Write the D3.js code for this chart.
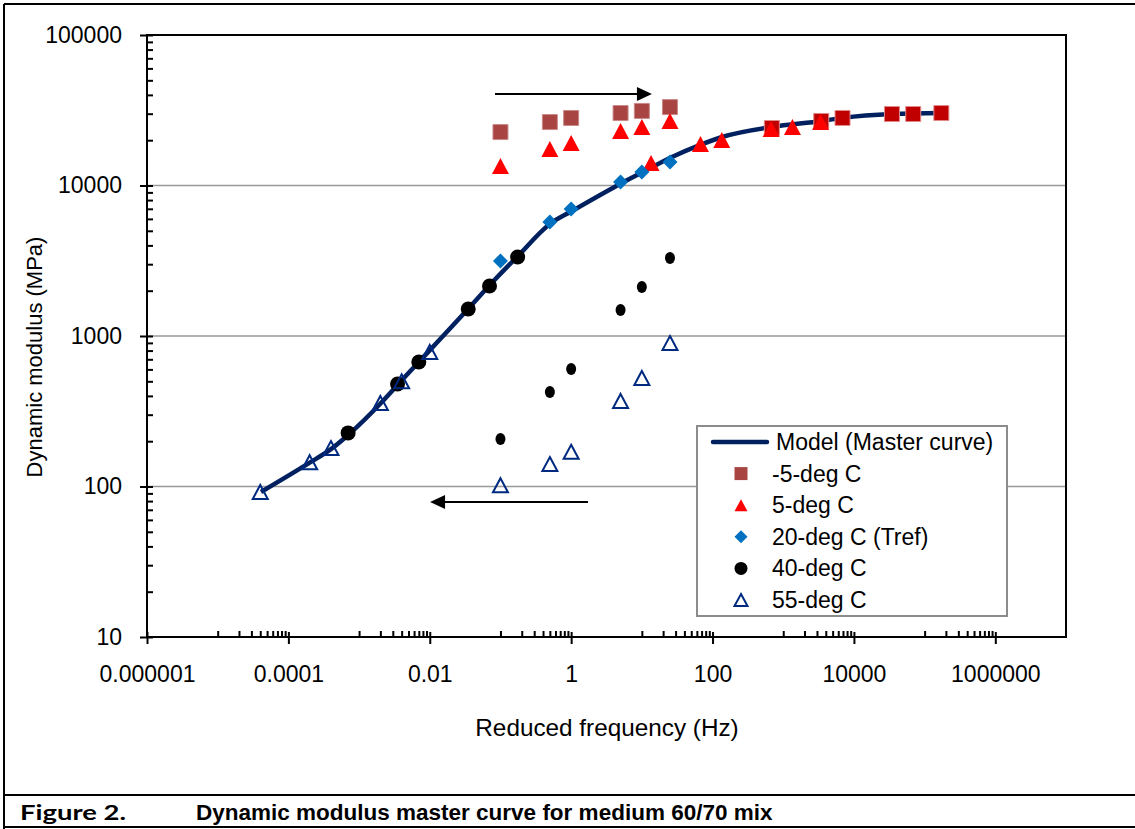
<!DOCTYPE html>
<html lang="en">
<head>
<meta charset="UTF-8">
<title>Dynamic modulus master curve</title>
<style>
  body { margin: 0; background: #fff; }
  svg { display: block; font-family: "Liberation Sans", Arial, sans-serif; }
  .axis path { display: none; }
  .axis line { stroke: #000; stroke-width: 2; }
  .axis text { font-size: 23px; fill: #000; font-family: "Liberation Sans", Arial, sans-serif; }
</style>
</head>
<body>
<svg id="chart" width="1135" height="829"></svg>
<script src="https://d3js.org/d3.v7.min.js"></script>
<script>
// axis ticks
const xTickValues = [1e-6, 1e-4, 1e-2, 1, 100, 1e4, 1e6];
const xTickLabels = ["0.000001", "0.0001", "0.01", "1", "100", "10000", "1000000"];
const yTickValues = [10, 100, 1000, 10000, 100000];
const yTickLabels = ["10", "100", "1000", "10000", "100000"];

// model (master curve)
const modelFreq = [4.1e-5, 1.95e-4, 4.0e-4, 7.0e-4, 2.04e-3, 3.8e-3, 7.0e-3, 0.0358, 0.0687, 0.177, 0.5, 1.03, 5.24, 10.4, 26.7, 67, 136, 692, 3520, 6760, 34400, 176000];
const modelE = [92, 143, 177, 220, 359, 494, 672, 1535, 2150, 3404, 5550, 6770, 10400, 12300, 15450, 18600, 21000, 24500, 26850, 28100, 29850, 30300];

// measured test frequencies
const rawFreq = [0.1, 0.5, 1, 5, 10, 25];

// -5 deg C
const m5RawE = [22650, 26400, 28100, 30300, 31300, 33200];
const m5ShiftFreq = [690, 3450, 6900, 34500, 69000, 172500];
const m5ShiftE = [24100, 26850, 28100, 29850, 29850, 30300];

// 5 deg C
const p5RawE = [13480, 17480, 19150, 23030, 24500, 26850];
const p5ShiftFreq = [13.5, 67.5, 135, 675, 1350, 3375];
const p5ShiftE = [14100, 18900, 20040, 23700, 24500, 26400];

// 20 deg C (reference)
const t20E = [3150, 5720, 6980, 10550, 12300, 14330];

// 40 deg C
const t40RawE = [207, 425, 604, 1488, 2117, 3300];
const t40ShiftFreq = [7e-4, 3.5e-3, 7e-3, 0.035, 0.07, 0.175];
const t40ShiftE = [227, 480, 672, 1511, 2148, 3350];

// 55 deg C
const t55RawE = [102, 141, 170, 370, 526, 898];
const t55ShiftFreq = [4e-5, 2e-4, 4e-4, 2e-3, 4e-3, 1e-2];
const t55ShiftE = [92, 145, 180, 359, 500, 783];

const legendLabels = ["Model (Master curve)", "-5-deg C", "5-deg C", "20-deg C (Tref)", "40-deg C", "55-deg C"];

// arrows (data coords)
const arrowTop = { from: [0.0836, 40500], to: [13.9, 40500] };
const arrowBottom = { from: [1.73, 78.9], to: [0.0101, 78.9] };

const svg = d3.select("#chart");
const plot = { left: 147, right: 1066, top: 35, bottom: 637 };

const x = d3.scaleLog().domain([1e-6, 1e7]).range([plot.left, plot.right]);
const y = d3.scaleLog().domain([10, 1e5]).range([plot.bottom, plot.top]);

const zip = (xs, ys) => xs.map((v, i) => [v, ys[i]]);

// outer frame and caption
const frame = svg.append("g").attr("stroke", "#000").attr("stroke-width", 2);
frame.append("line").attr("x1", 4).attr("y1", 4).attr("x2", 1135).attr("y2", 4);
frame.append("line").attr("x1", 4).attr("y1", 4).attr("x2", 4).attr("y2", 829);
frame.append("line").attr("x1", 4).attr("y1", 795).attr("x2", 1135).attr("y2", 795);
frame.append("line").attr("x1", 4).attr("y1", 827).attr("x2", 1135).attr("y2", 827);

svg.append("text")
  .attr("x", 20).attr("y", 820)
  .attr("font-family", "Lato, 'Open Sans', sans-serif")
  .attr("font-weight", "bold").attr("font-size", 21)
  .attr("textLength", 106).attr("lengthAdjust", "spacingAndGlyphs")
  .text("Figure 2.");
svg.append("text")
  .attr("x", 196).attr("y", 820)
  .attr("font-weight", "bold").attr("font-size", 22.5)
  .text("Dynamic modulus master curve for medium 60/70 mix");

// gridlines
svg.append("g").selectAll("line")
  .data([100, 1000, 10000])
  .join("line")
  .attr("x1", plot.left).attr("x2", plot.right)
  .attr("y1", d => y(d)).attr("y2", d => y(d))
  .attr("stroke", "#999").attr("stroke-width", 1.5);

// plot border
svg.append("rect")
  .attr("x", plot.left).attr("y", plot.top)
  .attr("width", plot.right - plot.left).attr("height", plot.bottom - plot.top)
  .attr("fill", "none").attr("stroke", "#000").attr("stroke-width", 2);

// x axis
const xMinor = [];
xTickValues.forEach(v => {
  for (let k = 1; k <= 9; k++) {
    const m = v * 10 * k;
    if (m < 1e7) xMinor.push(m);
  }
});

svg.append("g").attr("class", "axis")
  .attr("transform", `translate(0,${plot.bottom})`)
  .call(d3.axisBottom(x).tickValues(xTickValues)
    .tickFormat((d, i) => xTickLabels[i]).tickSize(7).tickPadding(22));
svg.append("g").attr("class", "axis")
  .attr("transform", `translate(0,${plot.bottom})`)
  .call(d3.axisBottom(x).tickValues(xTickValues).tickFormat("").tickSize(-5));
svg.append("g").attr("class", "axis")
  .attr("transform", `translate(0,${plot.bottom})`)
  .call(d3.axisBottom(x).tickValues(xMinor).tickFormat("").tickSize(-6))
  .selectAll("line").attr("stroke-width", 1.5);

// y axis
const yMinor = [];
yTickValues.slice(0, -1).forEach(v => {
  for (let k = 2; k <= 9; k++) yMinor.push(v * k);
});

svg.append("g").attr("class", "axis")
  .attr("transform", `translate(${plot.left},0)`)
  .call(d3.axisLeft(y).tickValues(yTickValues)
    .tickFormat((d, i) => yTickLabels[i]).tickSize(7).tickPadding(18));
svg.append("g").attr("class", "axis")
  .attr("transform", `translate(${plot.left},0)`)
  .call(d3.axisLeft(y).tickValues(yTickValues).tickFormat("").tickSize(-6));
svg.append("g").attr("class", "axis")
  .attr("transform", `translate(${plot.left},0)`)
  .call(d3.axisLeft(y).tickValues(yMinor).tickFormat("").tickSize(-6))
  .selectAll("line").attr("stroke-width", 1.5);

// axis titles
svg.append("text")
  .attr("x", 607).attr("y", 736)
  .attr("text-anchor", "middle").attr("font-size", 24.3)
  .text("Reduced frequency (Hz)");
svg.append("text")
  .attr("transform", "translate(42,357) rotate(-90)")
  .attr("text-anchor", "middle").attr("font-size", 22)
  .text("Dynamic modulus (MPa)");

// arrows
function drawArrow(a) {
  const x1 = x(a.from[0]), y1 = y(a.from[1]);
  const x2 = x(a.to[0]), y2 = y(a.to[1]);
  const dir = Math.sign(x2 - x1);
  svg.append("line")
    .attr("x1", x1).attr("y1", y1).attr("x2", x2 - dir * 12).attr("y2", y2)
    .attr("stroke", "#000").attr("stroke-width", 2);
  svg.append("path")
    .attr("d", `M${x2},${y2} L${x2 - dir * 15},${y2 - 7} L${x2 - dir * 15},${y2 + 7} Z`)
    .attr("fill", "#000");
}
drawArrow(arrowTop);
drawArrow(arrowBottom);

// model curve
const line = d3.line()
  .x(d => x(d[0])).y(d => y(d[1]))
  .curve(d3.curveMonotoneX);
svg.append("path")
  .datum(zip(modelFreq, modelE))
  .attr("d", line)
  .attr("fill", "none").attr("stroke", "#002060")
  .attr("stroke-width", 4.5).attr("stroke-linejoin", "round");

// marker shapes
const shapes = {
  square: s => `M${-s / 2},${-s / 2}h${s}v${s}h${-s}Z`,
  triangle: (w, h) => `M0,${-h / 2}L${w / 2},${h / 2}L${-w / 2},${h / 2}Z`,
  diamond: s => `M0,${-s / 2}L${s / 2},0L0,${s / 2}L${-s / 2},0Z`
};

function markers(pts, d, style) {
  const g = svg.append("g");
  const sel = g.selectAll("path").data(pts).join("path")
    .attr("transform", p => `translate(${x(p[0])},${y(p[1])})`)
    .attr("d", d);
  Object.entries(style).forEach(([k, v]) => sel.attr(k, v));
}

// -5 deg C
markers(zip(rawFreq, m5RawE), shapes.square(15), { fill: "#A84543", stroke: "#c98a89", "stroke-width": 1 });
markers(zip(m5ShiftFreq, m5ShiftE), shapes.square(15), { fill: "#C00000", stroke: "#e08a8a", "stroke-width": 1 });
// 5 deg C
markers(zip(rawFreq, p5RawE), shapes.triangle(17, 16), { fill: "#FF0000" });
markers(zip(p5ShiftFreq, p5ShiftE), shapes.triangle(17, 16), { fill: "#FF0000" });
// 20 deg C
markers(zip(rawFreq, t20E), shapes.diamond(15), { fill: "#0070C0" });
// 40 deg C
svg.append("g").selectAll("ellipse").data(zip(rawFreq, t40RawE)).join("ellipse")
  .attr("cx", p => x(p[0])).attr("cy", p => y(p[1]))
  .attr("rx", 5).attr("ry", 6).attr("fill", "#000");
svg.append("g").selectAll("circle").data(zip(t40ShiftFreq, t40ShiftE)).join("circle")
  .attr("cx", p => x(p[0])).attr("cy", p => y(p[1]))
  .attr("r", 7.5).attr("fill", "#000");
// 55 deg C
markers(zip(rawFreq, t55RawE), shapes.triangle(15, 14), { fill: "none", stroke: "#002A80", "stroke-width": 2 });
markers(zip(t55ShiftFreq, t55ShiftE), shapes.triangle(15, 14), { fill: "none", stroke: "#002A80", "stroke-width": 2 });

// legend
const lg = svg.append("g").attr("transform", "translate(697,426)");
lg.append("rect").attr("width", 310).attr("height", 190)
  .attr("fill", "#fff").attr("stroke", "#8c8c8c").attr("stroke-width", 2);
const rowY = i => 16 + i * 31.6;
lg.append("line").attr("x1", 16).attr("x2", 70).attr("y1", rowY(0)).attr("y2", rowY(0))
  .attr("stroke", "#002060").attr("stroke-width", 4.5).attr("stroke-linecap", "round");
const legendMarks = [
  { d: shapes.square(13), fill: "#A84543" },
  { d: shapes.triangle(13, 12), fill: "#FF0000" },
  { d: shapes.diamond(13), fill: "#0070C0" },
  { d: null, fill: "#000" },
  { d: shapes.triangle(13, 12), fill: "none", stroke: "#002A80" }
];
legendMarks.forEach((m, i) => {
  const cy = rowY(i + 1);
  if (m.d) {
    lg.append("path").attr("transform", `translate(44,${cy})`).attr("d", m.d)
      .attr("fill", m.fill).attr("stroke", m.stroke || "none").attr("stroke-width", 2);
  } else {
    lg.append("circle").attr("cx", 44).attr("cy", cy).attr("r", 6.5).attr("fill", m.fill);
  }
});
lg.selectAll("text.lbl").data(legendLabels).join("text")
  .attr("class", "lbl")
  .attr("x", (d, i) => i === 0 ? 79 : 75)
  .attr("y", (d, i) => rowY(i))
  .attr("dy", "0.35em")
  .attr("font-size", 23)
  .text(d => d);
</script>
</body>
</html>
